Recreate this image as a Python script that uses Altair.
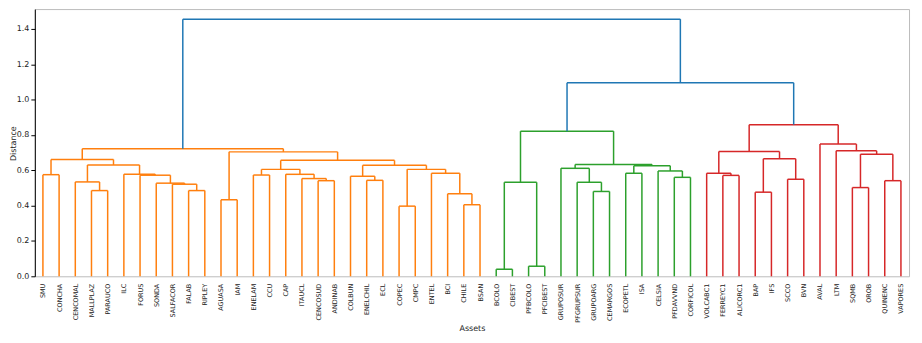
import altair as alt
import pandas as pd

leaves = ["SMU", "CONCHA", "CENCOMAL", "MALLPLAZ", "PARAUCO", "ILC", "FORUS", "SONDA",
          "SALFACOR", "FALAB", "RIPLEY", "AGUASA", "IAM", "ENELAM", "CCU", "CAP", "ITAUCL",
          "CENCOSUD", "ANDINAB", "COLBUN", "ENELCHIL", "ECL", "COPEC", "CMPC", "ENTEL", "BCI",
          "CHILE", "BSAN", "BCOLO", "CIBEST", "PFBCOLO", "PFCIBEST", "GRUPOSUR", "PFGRUPSUR",
          "GRUPOARG", "CEMARGOS", "ECOPETL", "ISA", "CELSIA", "PFDAVVND", "CORFICOL",
          "VOLCABC1", "FERREYC1", "ALICORC1", "BAP", "IFS", "SCCO", "BVN", "AVAL", "LTM",
          "SQMB", "OROB", "QUINENC", "VAPORES"]

# merges: (name, left child, right child, height, cluster colour)
merge_name = ["A", "B", "C", "D", "E", "F", "G", "H", "I", "J", "K", "L", "M", "N", "O", "P",
              "U", "V", "W", "X", "Y", "Z", "AA", "R", "Q", "S", "T",
              "GA", "GB", "GC", "GD", "GE", "GF", "GG", "GH", "GI", "GJ", "GK", "GL",
              "RA", "RB", "RC", "RD", "RE", "RF", "RG", "RH", "RI", "RJ", "RK", "RL",
              "B1", "ROOT"]
merge_left = ["SMU", "MALLPLAZ", "CENCOMAL", "FALAB", "SALFACOR", "SONDA", "FORUS", "ILC", "C", "A",
              "AGUASA", "ENELAM", "CENCOSUD", "ITAUCL", "CAP", "L",
              "ENELCHIL", "COLBUN", "COPEC", "CHILE", "BCI", "ENTEL", "W", "V", "P", "K", "J",
              "BCOLO", "PFBCOLO", "GA", "GRUPOARG", "PFGRUPSUR", "GRUPOSUR", "ECOPETL", "PFDAVVND",
              "CELSIA", "GG", "GF", "GC",
              "FERREYC1", "VOLCABC1", "BAP", "SCCO", "RC", "RB", "SQMB", "QUINENC", "RG", "LTM",
              "AVAL", "RF",
              "GL", "T"]
merge_right = ["CONCHA", "PARAUCO", "B", "RIPLEY", "D", "E", "F", "G", "H", "I",
               "IAM", "CCU", "ANDINAB", "M", "N", "O",
               "ECL", "U", "CMPC", "BSAN", "X", "Y", "Z", "AA", "R", "Q", "S",
               "CIBEST", "PFCIBEST", "GB", "CEMARGOS", "GD", "GE", "ISA", "CORFICOL",
               "GH", "GI", "GJ", "GK",
               "ALICORC1", "RA", "IFS", "BVN", "RD", "RE", "OROB", "VAPORES", "RH", "RI",
               "RJ", "RK",
               "RL", "B1"]
merge_height = [0.575, 0.485, 0.534, 0.485, 0.521, 0.527, 0.572, 0.577, 0.630, 0.661,
                0.433, 0.573, 0.541, 0.553, 0.577, 0.605,
                0.543, 0.566, 0.397, 0.405, 0.467, 0.583, 0.605, 0.628, 0.656, 0.704, 0.722,
                0.040, 0.057, 0.532, 0.480, 0.532, 0.611, 0.583, 0.560, 0.596, 0.626, 0.633, 0.821,
                0.571, 0.583, 0.476, 0.549, 0.665, 0.706, 0.502, 0.541, 0.691, 0.710, 0.748, 0.858,
                1.095, 1.455]
merge_color = ["#ff7f0e"] * 27 + ["#2ca02c"] * 12 + ["#d62728"] * 12 + ["#1f77b4"] * 2

# dendrogram layout (scipy convention: leaf i at 10*i+5)
xpos = {name: 10 * i + 5 for i, name in enumerate(leaves)}
ypos = {name: 0.0 for name in leaves}
rows = []
for n, a, b, h, c in zip(merge_name, merge_left, merge_right, merge_height, merge_color):
    xa, xb = xpos[a], xpos[b]
    rows.append(dict(x=xa, x2=xa, y=ypos[a], y2=h, c=c))
    rows.append(dict(x=xa, x2=xb, y=h, y2=h, c=c))
    rows.append(dict(x=xb, x2=xb, y=ypos[b], y2=h, c=c))
    xpos[n] = (xa + xb) / 2
    ypos[n] = h
df = pd.DataFrame(rows)

label_array = "[" + ",".join("'%s'" % s for s in leaves) + "]"
n = len(leaves)

chart = alt.Chart(df).mark_rule(strokeWidth=1.5).encode(
    x=alt.X("x:Q", scale=alt.Scale(domain=[0, 10 * n], nice=False, zero=False),
            axis=alt.Axis(values=[10 * i + 5 for i in range(n)],
                          labelExpr=label_array + "[floor(datum.value/10)]",
                          labelAngle=270, labelFontSize=6.5, labelFont="DejaVu Sans",
                          labelColor="#222", labelPadding=7, ticks=False, domain=False,
                          grid=False, title="Assets", titleFont="DejaVu Sans",
                          titleFontSize=8, titleFontWeight="normal", titleColor="#222",
                          titleY=57, titleBaseline="bottom")),
    x2="x2:Q",
    y=alt.Y("y:Q", scale=alt.Scale(domain=[0, 1.512], nice=False),
            axis=alt.Axis(values=[0, 0.2, 0.4, 0.6, 0.8, 1.0, 1.2, 1.4], format=".1f",
                          labelFontSize=8, labelFont="DejaVu Sans", labelColor="#222",
                          tickSize=4, tickColor="#000", domainColor="#000", labelPadding=2,
                          grid=False, title="Distance", titleFont="DejaVu Sans",
                          titleFontSize=8, titleFontWeight="normal", titleColor="#222",
                          titleX=-21, titleY=135, titleAngle=270, titleAlign="center",
                          titleBaseline="middle")),
    y2="y2:Q",
    color=alt.Color("c:N", scale=None),
).properties(
    width=880, height=269,
    autosize=alt.AutoSizeParams(type="none"),
    padding={"left": 27, "top": 0, "right": 5, "bottom": 56},
).configure_view(stroke="#bbbbbb", strokeWidth=1)

chart.save("out.html", embed_options={"renderer": "svg", "actions": False})
